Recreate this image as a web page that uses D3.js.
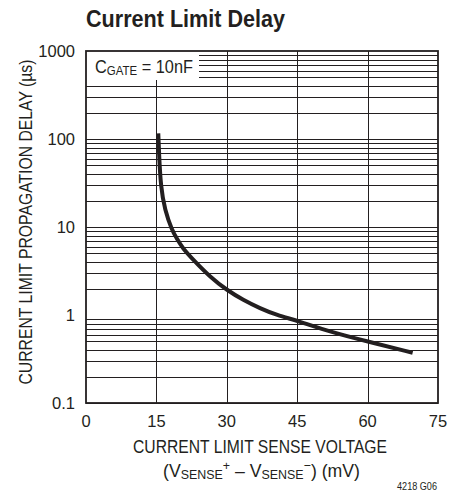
<!DOCTYPE html>
<html>
<head>
<meta charset="utf-8">
<script src="https://cdn.jsdelivr.net/npm/d3@7"></script>
<style>
    body { margin: 0; background: #fff; }
    svg text { font-family: "Liberation Sans", Arial, sans-serif; fill: #231f20; }
</style>
</head>
<body>
<svg id="chart" width="472" height="492"></svg>
<script>

// values (mV -> us)
var voltage = [15.4, 15.56, 15.92, 16.8, 18.3, 19.4, 20.6, 22.9, 26.4, 30, 33.5, 37.1, 40.6, 45.2, 52, 60, 69.6];
var delay   = [116, 69, 28.7, 15.6, 9.25, 7.3, 5.73, 4.22, 2.72, 1.92, 1.48, 1.19, 1.0, 0.855, 0.645, 0.50, 0.373];

var xTicks = [0, 15, 30, 45, 60, 75];
var yTicks = [0.1, 1, 10, 100, 1000];
var yTickLabels = ["0.1", "1", "10", "100", "1000"];

var margin = {top: 51, right: 34, bottom: 89, left: 86};
var W = 472, H = 492;
var w = W - margin.left - margin.right;
var h = H - margin.top - margin.bottom;

var ink = "#231f20";

var svg = d3.select("#chart");
var g = svg.append("g").attr("transform", "translate(" + margin.left + "," + margin.top + ")");

var x = d3.scaleLinear().domain([0, 75]).range([0, w]);
var y = d3.scaleLog().domain([0.1, 1000]).range([h, 0]);

// horizontal grid: 2..9 in every decade plus the decade lines
// (the scan has no line at 1, so it is left out here too)
var gridVals = [];
yTicks.slice(0, -1).forEach(function (d) {
    for (var k = 1; k < 10; k++) {
        if (d * k === 1) continue;
        gridVals.push(d * k);
    }
});

g.selectAll(".hgrid")
    .data(gridVals)
    .enter()
    .append("line")
    .attr("class", "hgrid")
    .attr("x1", 0)
    .attr("x2", w)
    .attr("y1", function (d) { return Math.round(y(d)) + 0.5; })
    .attr("y2", function (d) { return Math.round(y(d)) + 0.5; })
    .attr("stroke", ink)
    .attr("stroke-width", 1);

g.selectAll(".vgrid")
    .data(xTicks.slice(1, -1))
    .enter()
    .append("line")
    .attr("class", "vgrid")
    .attr("x1", function (d) { return Math.round(x(d)) + 0.5; })
    .attr("x2", function (d) { return Math.round(x(d)) + 0.5; })
    .attr("y1", 0)
    .attr("y2", h)
    .attr("stroke", ink)
    .attr("stroke-width", 1);

// legend box hides the grid behind it
g.append("rect")
    .attr("x", 0)
    .attr("y", 0)
    .attr("width", 113)
    .attr("height", 29)
    .attr("fill", "#fff");

var leg = g.append("text")
    .attr("x", 9)
    .attr("y", 22)
    .attr("textLength", 98)
    .attr("lengthAdjust", "spacingAndGlyphs")
    .style("font-size", "18.5px");
leg.append("tspan").text("C");
leg.append("tspan").attr("dy", 2).style("font-size", "13px").text("GATE");
leg.append("tspan").attr("dy", -2).text(" = 10nF");

// frame
g.append("rect")
    .attr("x", 0)
    .attr("y", 0)
    .attr("width", w)
    .attr("height", h)
    .attr("fill", "none")
    .attr("stroke", ink)
    .attr("stroke-width", 1.8);

// curve
var line = d3.line()
    .x(function (d, i) { return x(voltage[i]); })
    .y(function (d) { return y(d); })
    .curve(d3.curveBasis);

g.append("path")
    .datum(delay)
    .attr("d", line)
    .attr("fill", "none")
    .attr("stroke", ink)
    .attr("stroke-width", 4);

// tick labels
g.selectAll(".xlab")
    .data(xTicks)
    .enter()
    .append("text")
    .attr("class", "xlab")
    .attr("x", function (d) { return x(d); })
    .attr("y", h + 24)
    .attr("text-anchor", "middle")
    .style("font-size", "16.5px")
    .text(function (d) { return d; });

g.selectAll(".ylab")
    .data(yTicks)
    .enter()
    .append("text")
    .attr("class", "ylab")
    .attr("x", -11)
    .attr("y", function (d) { return y(d) + 6; })
    .attr("text-anchor", "end")
    .style("font-size", "16.5px")
    .text(function (d, i) { return yTickLabels[i]; });

// titles
svg.append("text")
    .attr("x", margin.left)
    .attr("y", 27)
    .attr("textLength", 199)
    .attr("lengthAdjust", "spacingAndGlyphs")
    .style("font-size", "23px")
    .style("font-weight", "bold")
    .text("Current Limit Delay");

svg.append("text")
    .attr("x", 260)
    .attr("y", 453)
    .attr("text-anchor", "middle")
    .attr("textLength", 254)
    .attr("lengthAdjust", "spacingAndGlyphs")
    .style("font-size", "18.5px")
    .text("CURRENT LIMIT SENSE VOLTAGE");

var sub = svg.append("text")
    .attr("x", 261.5)
    .attr("y", 477)
    .attr("text-anchor", "middle")
    .attr("textLength", 197)
    .attr("lengthAdjust", "spacingAndGlyphs")
    .style("font-size", "18.5px");
sub.append("tspan").text("(V");
sub.append("tspan").attr("dy", 2).style("font-size", "13px").text("SENSE");
sub.append("tspan").attr("dy", -9).style("font-size", "13px").text("+");
sub.append("tspan").attr("dy", 7).text(" \u2013 V");
sub.append("tspan").attr("dy", 2).style("font-size", "13px").text("SENSE");
sub.append("tspan").attr("dy", -9).style("font-size", "13px").text("\u2212");
sub.append("tspan").attr("dy", 7).text(") (mV)");

svg.append("text")
    .attr("transform", "translate(32,222) rotate(-90)")
    .attr("text-anchor", "middle")
    .attr("textLength", 325)
    .attr("lengthAdjust", "spacingAndGlyphs")
    .style("font-size", "18px")
    .text("CURRENT LIMIT PROPAGATION DELAY (\u00b5s)");

svg.append("text")
    .attr("x", 397)
    .attr("y", 490)
    .attr("textLength", 40)
    .attr("lengthAdjust", "spacingAndGlyphs")
    .style("font-size", "11.5px")
    .text("4218 G06");

</script>
</body>
</html>
